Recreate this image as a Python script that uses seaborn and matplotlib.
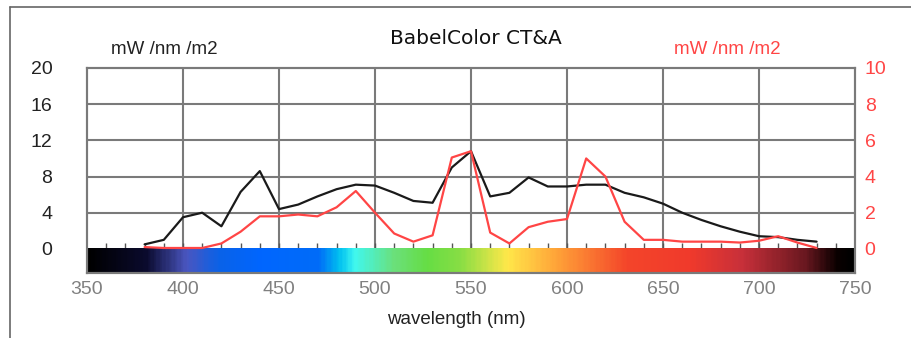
import numpy as np
import pandas as pd
import matplotlib.pyplot as plt
import seaborn as sns
from matplotlib.colors import LinearSegmentedColormap
from matplotlib.lines import Line2D

# wavelengths (nm), 10 nm steps
wavelength = list(range(380, 740, 10))

# left axis series (black), mW /nm /m2
black_vals = [0.5, 1.0, 3.5, 4.0, 2.5, 6.3, 8.6, 4.4, 4.9, 5.8, 6.6, 7.1,
              7.0, 6.2, 5.3, 5.1, 9.0, 10.8, 5.8, 6.2, 7.9, 6.9, 6.9, 7.1,
              7.1, 6.2, 5.7, 5.0, 4.0, 3.2, 2.5, 1.9, 1.4, 1.3, 1.0, 0.8]

# right axis series (red), mW /nm /m2
red_vals = [0.1, 0.05, 0.05, 0.05, 0.3, 0.95, 1.8, 1.8, 1.9, 1.8, 2.3, 3.2,
            2.0, 0.85, 0.4, 0.75, 5.05, 5.4, 0.9, 0.3, 1.2, 1.5, 1.65, 5.0,
            4.0, 1.5, 0.5, 0.5, 0.4, 0.4, 0.4, 0.35, 0.45, 0.7, 0.35, 0.05]

x_ticks = [350, 400, 450, 500, 550, 600, 650, 700, 750]
left_ticks = [0, 4, 8, 12, 16, 20]
right_ticks = [0, 2, 4, 6, 8, 10]

# spectrum strip colours
spec_nm = [350, 380, 401, 418, 440, 470, 481, 489, 510, 527, 545, 569, 596,
           632, 665, 692, 725, 742, 750]
spec_col = ["#000000", "#0b0b2e", "#4a56c0", "#0a62e8", "#0066ff", "#006cf8",
            "#00bff0", "#40f8f0", "#6be07a", "#66dd44", "#8ade44", "#ffe84a",
            "#ffa038", "#f4452a", "#f03a2c", "#c8303a", "#6a1820", "#0a0000",
            "#000000"]

df = pd.DataFrame({"wavelength": wavelength, "black": black_vals, "red": red_vals})

sns.set_style("white")
plt.rcParams["font.family"] = ["Liberation Sans", "DejaVu Sans"]

fig = plt.figure(figsize=(9.12, 3.38), dpi=100)
ax = fig.add_axes([87 / 912, 1 - 273 / 338, (855 - 87) / 912, (273 - 68) / 338])
ax2 = ax.twinx()

ax.set_xlim(350, 750)
ax.set_ylim(-24 / 9, 20)
ax2.set_ylim(-24 / 18, 10)

# grid
for t in [400, 450, 500, 550, 600, 650, 700]:
    ax.axvline(t, color="#7a7a7a", lw=1.5, zorder=0)
for t in [4, 8, 12, 16]:
    ax.axhline(t, color="#7a7a7a", lw=1.5, zorder=0)
ax.vlines(np.arange(360, 750, 10), 0, 0.65, color="#555555", lw=1, zorder=1)

# spectrum strip
cmap = LinearSegmentedColormap.from_list(
    "spec", [((n - 350) / 400, c) for n, c in zip(spec_nm, spec_col)])
ax.imshow(np.linspace(0, 1, 400).reshape(1, -1), cmap=cmap, aspect="auto",
          extent=[350, 750, -24 / 9, 0], zorder=2)

sns.lineplot(data=df, x="wavelength", y="black", ax=ax, color="#1a1a1a", lw=1.6, zorder=3)
sns.lineplot(data=df, x="wavelength", y="red", ax=ax2, color="#ff4545", lw=1.6, zorder=3)

for a in (ax, ax2):
    for s in a.spines.values():
        s.set_color("#7a7a7a")
        s.set_linewidth(1.5)
    a.set_ylabel("")

ax.set_xticks(x_ticks)
ax.set_xticklabels([str(t) for t in x_ticks], color="#808080", fontsize=14)
ax.tick_params(axis="x", length=0, pad=6)
ax.set_yticks(left_ticks)
ax.set_yticklabels([str(t) for t in left_ticks], color="#222222", fontsize=14)
ax.tick_params(axis="y", length=0, pad=25)
ax2.set_yticks(right_ticks)
ax2.set_yticklabels([str(t) for t in right_ticks], color="#ff4545", fontsize=14)
ax2.tick_params(axis="y", length=0, pad=7)
ax.set_xlabel("wavelength (nm)", fontsize=13.5, color="#222222")
ax.xaxis.set_label_coords((456 - 87) / 768, -(320 - 273) / 205)
ax.xaxis.label.set_va("center")

fig.text(476 / 912, 1 - 38 / 338, "BabelColor CT&A", ha="center", va="center",
         fontsize=14.5, family="DejaVu Sans", color="#111111")
fig.text(164 / 912, 1 - 49 / 338, "mW /nm /m2", ha="center", va="center",
         fontsize=13.5, color="#222222")
fig.text(727 / 912, 1 - 49 / 338, "mW /nm /m2", ha="center", va="center",
         fontsize=13.5, color="#ff4545")

# page frame
fig.add_artist(Line2D([10 / 912, 1], [1 - 7 / 338, 1 - 7 / 338],
                      transform=fig.transFigure, color="#666666", lw=1.2))
fig.add_artist(Line2D([10 / 912, 10 / 912], [0, 1 - 7 / 338],
                      transform=fig.transFigure, color="#666666", lw=1.2))

fig.savefig("out.png", dpi=100)
